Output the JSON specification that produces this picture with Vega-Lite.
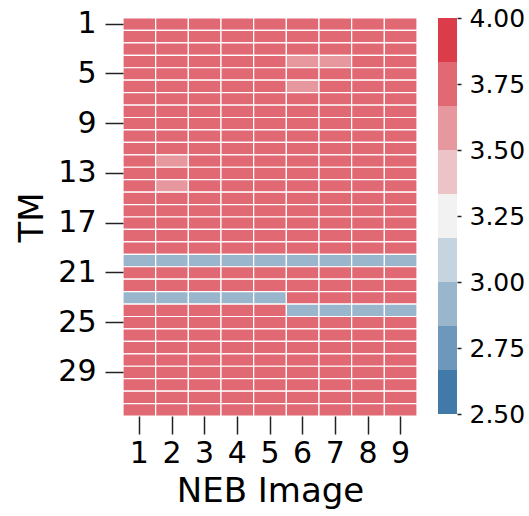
{
  "$schema": "https://vega.github.io/schema/vega-lite/v6.json",
  "padding": {"left": 15, "top": 6, "right": 5, "bottom": 5},
  "background": "white",
  "config": {
    "font": "DejaVu Sans",
    "view": {"stroke": null},
    "axis": {"labelColor": "black", "titleColor": "black", "tickColor": "#222222", "tickWidth": 1.5, "titleFontWeight": "normal", "domain": false, "grid": false}
  },
  "datasets": {
    "cells": [
{"img":1,"tm":1,"v":3.75},{"img":2,"tm":1,"v":3.75},{"img":3,"tm":1,"v":3.75},{"img":4,"tm":1,"v":3.75},{"img":5,"tm":1,"v":3.75},{"img":6,"tm":1,"v":3.75},{"img":7,"tm":1,"v":3.75},{"img":8,"tm":1,"v":3.75},{"img":9,"tm":1,"v":3.75},
{"img":1,"tm":2,"v":3.75},{"img":2,"tm":2,"v":3.75},{"img":3,"tm":2,"v":3.75},{"img":4,"tm":2,"v":3.75},{"img":5,"tm":2,"v":3.75},{"img":6,"tm":2,"v":3.75},{"img":7,"tm":2,"v":3.75},{"img":8,"tm":2,"v":3.75},{"img":9,"tm":2,"v":3.75},
{"img":1,"tm":3,"v":3.75},{"img":2,"tm":3,"v":3.75},{"img":3,"tm":3,"v":3.75},{"img":4,"tm":3,"v":3.75},{"img":5,"tm":3,"v":3.75},{"img":6,"tm":3,"v":3.75},{"img":7,"tm":3,"v":3.75},{"img":8,"tm":3,"v":3.75},{"img":9,"tm":3,"v":3.75},
{"img":1,"tm":4,"v":3.75},{"img":2,"tm":4,"v":3.75},{"img":3,"tm":4,"v":3.75},{"img":4,"tm":4,"v":3.75},{"img":5,"tm":4,"v":3.75},{"img":6,"tm":4,"v":3.6},{"img":7,"tm":4,"v":3.6},{"img":8,"tm":4,"v":3.75},{"img":9,"tm":4,"v":3.75},
{"img":1,"tm":5,"v":3.75},{"img":2,"tm":5,"v":3.75},{"img":3,"tm":5,"v":3.75},{"img":4,"tm":5,"v":3.75},{"img":5,"tm":5,"v":3.75},{"img":6,"tm":5,"v":3.75},{"img":7,"tm":5,"v":3.75},{"img":8,"tm":5,"v":3.75},{"img":9,"tm":5,"v":3.75},
{"img":1,"tm":6,"v":3.75},{"img":2,"tm":6,"v":3.75},{"img":3,"tm":6,"v":3.75},{"img":4,"tm":6,"v":3.75},{"img":5,"tm":6,"v":3.75},{"img":6,"tm":6,"v":3.6},{"img":7,"tm":6,"v":3.75},{"img":8,"tm":6,"v":3.75},{"img":9,"tm":6,"v":3.75},
{"img":1,"tm":7,"v":3.75},{"img":2,"tm":7,"v":3.75},{"img":3,"tm":7,"v":3.75},{"img":4,"tm":7,"v":3.75},{"img":5,"tm":7,"v":3.75},{"img":6,"tm":7,"v":3.75},{"img":7,"tm":7,"v":3.75},{"img":8,"tm":7,"v":3.75},{"img":9,"tm":7,"v":3.75},
{"img":1,"tm":8,"v":3.75},{"img":2,"tm":8,"v":3.75},{"img":3,"tm":8,"v":3.75},{"img":4,"tm":8,"v":3.75},{"img":5,"tm":8,"v":3.75},{"img":6,"tm":8,"v":3.75},{"img":7,"tm":8,"v":3.75},{"img":8,"tm":8,"v":3.75},{"img":9,"tm":8,"v":3.75},
{"img":1,"tm":9,"v":3.75},{"img":2,"tm":9,"v":3.75},{"img":3,"tm":9,"v":3.75},{"img":4,"tm":9,"v":3.75},{"img":5,"tm":9,"v":3.75},{"img":6,"tm":9,"v":3.75},{"img":7,"tm":9,"v":3.75},{"img":8,"tm":9,"v":3.75},{"img":9,"tm":9,"v":3.75},
{"img":1,"tm":10,"v":3.75},{"img":2,"tm":10,"v":3.75},{"img":3,"tm":10,"v":3.75},{"img":4,"tm":10,"v":3.75},{"img":5,"tm":10,"v":3.75},{"img":6,"tm":10,"v":3.75},{"img":7,"tm":10,"v":3.75},{"img":8,"tm":10,"v":3.75},{"img":9,"tm":10,"v":3.75},
{"img":1,"tm":11,"v":3.75},{"img":2,"tm":11,"v":3.75},{"img":3,"tm":11,"v":3.75},{"img":4,"tm":11,"v":3.75},{"img":5,"tm":11,"v":3.75},{"img":6,"tm":11,"v":3.75},{"img":7,"tm":11,"v":3.75},{"img":8,"tm":11,"v":3.75},{"img":9,"tm":11,"v":3.75},
{"img":1,"tm":12,"v":3.75},{"img":2,"tm":12,"v":3.6},{"img":3,"tm":12,"v":3.75},{"img":4,"tm":12,"v":3.75},{"img":5,"tm":12,"v":3.75},{"img":6,"tm":12,"v":3.75},{"img":7,"tm":12,"v":3.75},{"img":8,"tm":12,"v":3.75},{"img":9,"tm":12,"v":3.75},
{"img":1,"tm":13,"v":3.75},{"img":2,"tm":13,"v":3.75},{"img":3,"tm":13,"v":3.75},{"img":4,"tm":13,"v":3.75},{"img":5,"tm":13,"v":3.75},{"img":6,"tm":13,"v":3.75},{"img":7,"tm":13,"v":3.75},{"img":8,"tm":13,"v":3.75},{"img":9,"tm":13,"v":3.75},
{"img":1,"tm":14,"v":3.75},{"img":2,"tm":14,"v":3.6},{"img":3,"tm":14,"v":3.75},{"img":4,"tm":14,"v":3.75},{"img":5,"tm":14,"v":3.75},{"img":6,"tm":14,"v":3.75},{"img":7,"tm":14,"v":3.75},{"img":8,"tm":14,"v":3.75},{"img":9,"tm":14,"v":3.75},
{"img":1,"tm":15,"v":3.75},{"img":2,"tm":15,"v":3.75},{"img":3,"tm":15,"v":3.75},{"img":4,"tm":15,"v":3.75},{"img":5,"tm":15,"v":3.75},{"img":6,"tm":15,"v":3.75},{"img":7,"tm":15,"v":3.75},{"img":8,"tm":15,"v":3.75},{"img":9,"tm":15,"v":3.75},
{"img":1,"tm":16,"v":3.75},{"img":2,"tm":16,"v":3.75},{"img":3,"tm":16,"v":3.75},{"img":4,"tm":16,"v":3.75},{"img":5,"tm":16,"v":3.75},{"img":6,"tm":16,"v":3.75},{"img":7,"tm":16,"v":3.75},{"img":8,"tm":16,"v":3.75},{"img":9,"tm":16,"v":3.75},
{"img":1,"tm":17,"v":3.75},{"img":2,"tm":17,"v":3.75},{"img":3,"tm":17,"v":3.75},{"img":4,"tm":17,"v":3.75},{"img":5,"tm":17,"v":3.75},{"img":6,"tm":17,"v":3.75},{"img":7,"tm":17,"v":3.75},{"img":8,"tm":17,"v":3.75},{"img":9,"tm":17,"v":3.75},
{"img":1,"tm":18,"v":3.75},{"img":2,"tm":18,"v":3.75},{"img":3,"tm":18,"v":3.75},{"img":4,"tm":18,"v":3.75},{"img":5,"tm":18,"v":3.75},{"img":6,"tm":18,"v":3.75},{"img":7,"tm":18,"v":3.75},{"img":8,"tm":18,"v":3.75},{"img":9,"tm":18,"v":3.75},
{"img":1,"tm":19,"v":3.75},{"img":2,"tm":19,"v":3.75},{"img":3,"tm":19,"v":3.75},{"img":4,"tm":19,"v":3.75},{"img":5,"tm":19,"v":3.75},{"img":6,"tm":19,"v":3.75},{"img":7,"tm":19,"v":3.75},{"img":8,"tm":19,"v":3.75},{"img":9,"tm":19,"v":3.75},
{"img":1,"tm":20,"v":2.92},{"img":2,"tm":20,"v":2.92},{"img":3,"tm":20,"v":2.92},{"img":4,"tm":20,"v":2.92},{"img":5,"tm":20,"v":2.92},{"img":6,"tm":20,"v":2.92},{"img":7,"tm":20,"v":2.92},{"img":8,"tm":20,"v":2.92},{"img":9,"tm":20,"v":2.92},
{"img":1,"tm":21,"v":3.75},{"img":2,"tm":21,"v":3.75},{"img":3,"tm":21,"v":3.75},{"img":4,"tm":21,"v":3.75},{"img":5,"tm":21,"v":3.75},{"img":6,"tm":21,"v":3.75},{"img":7,"tm":21,"v":3.75},{"img":8,"tm":21,"v":3.75},{"img":9,"tm":21,"v":3.75},
{"img":1,"tm":22,"v":3.75},{"img":2,"tm":22,"v":3.75},{"img":3,"tm":22,"v":3.75},{"img":4,"tm":22,"v":3.75},{"img":5,"tm":22,"v":3.75},{"img":6,"tm":22,"v":3.75},{"img":7,"tm":22,"v":3.75},{"img":8,"tm":22,"v":3.75},{"img":9,"tm":22,"v":3.75},
{"img":1,"tm":23,"v":2.92},{"img":2,"tm":23,"v":2.92},{"img":3,"tm":23,"v":2.92},{"img":4,"tm":23,"v":2.92},{"img":5,"tm":23,"v":2.92},{"img":6,"tm":23,"v":3.75},{"img":7,"tm":23,"v":3.75},{"img":8,"tm":23,"v":3.75},{"img":9,"tm":23,"v":3.75},
{"img":1,"tm":24,"v":3.75},{"img":2,"tm":24,"v":3.75},{"img":3,"tm":24,"v":3.75},{"img":4,"tm":24,"v":3.75},{"img":5,"tm":24,"v":3.75},{"img":6,"tm":24,"v":2.92},{"img":7,"tm":24,"v":2.92},{"img":8,"tm":24,"v":2.92},{"img":9,"tm":24,"v":2.92},
{"img":1,"tm":25,"v":3.75},{"img":2,"tm":25,"v":3.75},{"img":3,"tm":25,"v":3.75},{"img":4,"tm":25,"v":3.75},{"img":5,"tm":25,"v":3.75},{"img":6,"tm":25,"v":3.75},{"img":7,"tm":25,"v":3.75},{"img":8,"tm":25,"v":3.75},{"img":9,"tm":25,"v":3.75},
{"img":1,"tm":26,"v":3.75},{"img":2,"tm":26,"v":3.75},{"img":3,"tm":26,"v":3.75},{"img":4,"tm":26,"v":3.75},{"img":5,"tm":26,"v":3.75},{"img":6,"tm":26,"v":3.75},{"img":7,"tm":26,"v":3.75},{"img":8,"tm":26,"v":3.75},{"img":9,"tm":26,"v":3.75},
{"img":1,"tm":27,"v":3.75},{"img":2,"tm":27,"v":3.75},{"img":3,"tm":27,"v":3.75},{"img":4,"tm":27,"v":3.75},{"img":5,"tm":27,"v":3.75},{"img":6,"tm":27,"v":3.75},{"img":7,"tm":27,"v":3.75},{"img":8,"tm":27,"v":3.75},{"img":9,"tm":27,"v":3.75},
{"img":1,"tm":28,"v":3.75},{"img":2,"tm":28,"v":3.75},{"img":3,"tm":28,"v":3.75},{"img":4,"tm":28,"v":3.75},{"img":5,"tm":28,"v":3.75},{"img":6,"tm":28,"v":3.75},{"img":7,"tm":28,"v":3.75},{"img":8,"tm":28,"v":3.75},{"img":9,"tm":28,"v":3.75},
{"img":1,"tm":29,"v":3.75},{"img":2,"tm":29,"v":3.75},{"img":3,"tm":29,"v":3.75},{"img":4,"tm":29,"v":3.75},{"img":5,"tm":29,"v":3.75},{"img":6,"tm":29,"v":3.75},{"img":7,"tm":29,"v":3.75},{"img":8,"tm":29,"v":3.75},{"img":9,"tm":29,"v":3.75},
{"img":1,"tm":30,"v":3.75},{"img":2,"tm":30,"v":3.75},{"img":3,"tm":30,"v":3.75},{"img":4,"tm":30,"v":3.75},{"img":5,"tm":30,"v":3.75},{"img":6,"tm":30,"v":3.75},{"img":7,"tm":30,"v":3.75},{"img":8,"tm":30,"v":3.75},{"img":9,"tm":30,"v":3.75},
{"img":1,"tm":31,"v":3.75},{"img":2,"tm":31,"v":3.75},{"img":3,"tm":31,"v":3.75},{"img":4,"tm":31,"v":3.75},{"img":5,"tm":31,"v":3.75},{"img":6,"tm":31,"v":3.75},{"img":7,"tm":31,"v":3.75},{"img":8,"tm":31,"v":3.75},{"img":9,"tm":31,"v":3.75},
{"img":1,"tm":32,"v":3.75},{"img":2,"tm":32,"v":3.75},{"img":3,"tm":32,"v":3.75},{"img":4,"tm":32,"v":3.75},{"img":5,"tm":32,"v":3.75},{"img":6,"tm":32,"v":3.75},{"img":7,"tm":32,"v":3.75},{"img":8,"tm":32,"v":3.75},{"img":9,"tm":32,"v":3.75}
    ],
    "bar": [
      {"lo": 2.5, "hi": 2.6667, "v": 2.5833},
      {"lo": 2.6667, "hi": 2.8333, "v": 2.75},
      {"lo": 2.8333, "hi": 3.0, "v": 2.9167},
      {"lo": 3.0, "hi": 3.1667, "v": 3.0833},
      {"lo": 3.1667, "hi": 3.3333, "v": 3.25},
      {"lo": 3.3333, "hi": 3.5, "v": 3.4167},
      {"lo": 3.5, "hi": 3.6667, "v": 3.5833},
      {"lo": 3.6667, "hi": 3.8333, "v": 3.75},
      {"lo": 3.8333, "hi": 4.0, "v": 3.9167}
    ]
  },
  "spacing": 20,
  "resolve": {"scale": {"color": "shared"}},
  "hconcat": [
    {
      "width": 294,
      "height": 398,
      "data": {"name": "cells"},
      "mark": {"type": "rect", "stroke": "white", "strokeWidth": 1.2},
      "encoding": {
        "x": {"field": "img", "type": "ordinal", "title": "NEB Image",
              "scale": {"paddingInner": 0, "paddingOuter": 0},
              "axis": {"labelAngle": 0, "labelFontSize": 30, "titleFontSize": 34, "tickSize": 18, "labelPadding": 4, "titlePadding": 6}},
        "y": {"field": "tm", "type": "ordinal", "title": "TM",
              "scale": {"paddingInner": 0, "paddingOuter": 0},
              "axis": {"values": [1, 5, 9, 13, 17, 21, 25, 29], "labelFontSize": 30, "titleFontSize": 34, "tickSize": 18, "labelPadding": 9, "titlePadding": 8}},
        "color": {"field": "v", "type": "quantitative", "legend": null,
                  "scale": {"type": "quantize", "domain": [2.5, 4.0], "nice": false,
                            "range": ["#417aa8", "#6d98bb", "#9ab6cd", "#c6d4e0", "#f2f2f2", "#ecc4c8", "#e7979e", "#e16974", "#dc3c4a"]}}
      }
    },
    {
      "width": 19,
      "height": 396,
      "data": {"name": "bar"},
      "mark": {"type": "rect"},
      "encoding": {
        "y": {"field": "lo", "type": "quantitative", "scale": {"domain": [2.5, 4.0], "nice": false, "zero": false},
              "axis": {"orient": "right", "title": null, "values": [2.5, 2.75, 3.0, 3.25, 3.5, 3.75, 4.0], "format": ".2f", "labelFontSize": 25, "tickSize": 4, "labelPadding": 8}},
        "y2": {"field": "hi"},
        "color": {"field": "v", "type": "quantitative", "legend": null,
                  "scale": {"type": "quantize", "domain": [2.5, 4.0], "nice": false,
                            "range": ["#417aa8", "#6d98bb", "#9ab6cd", "#c6d4e0", "#f2f2f2", "#ecc4c8", "#e7979e", "#e16974", "#dc3c4a"]}}
      }
    }
  ]
}
